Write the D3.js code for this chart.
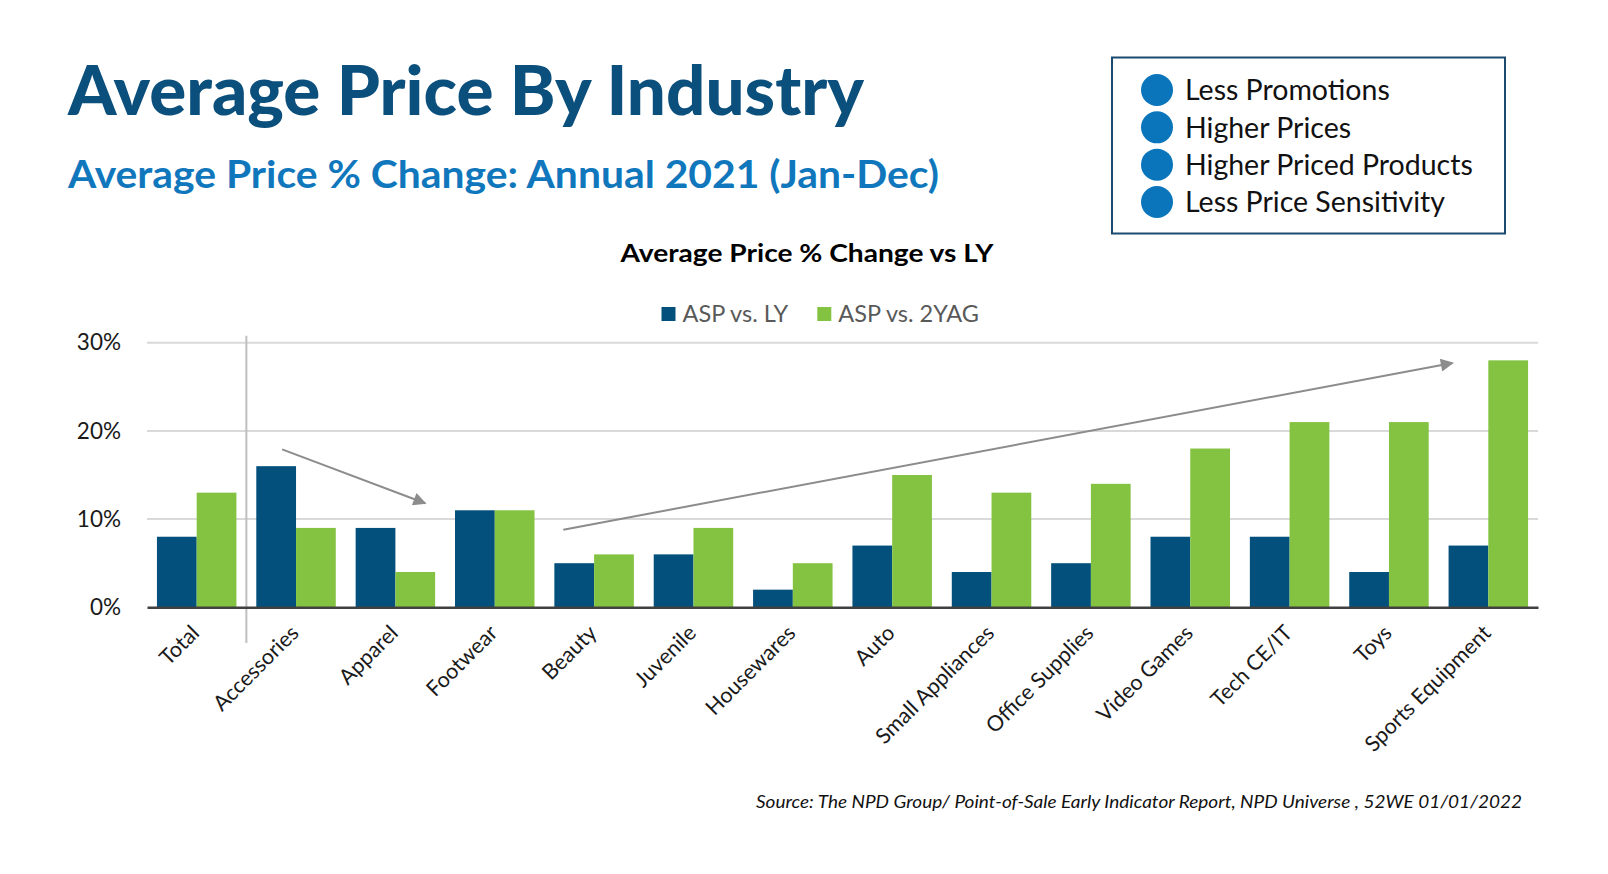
<!DOCTYPE html>
<html>
<head>
<meta charset="utf-8">
<script src="https://cdn.jsdelivr.net/npm/d3@7"></script>
<style>
  html, body { margin: 0; padding: 0; background: #ffffff; }
  svg { display: block; }
  text { font-family: Lato, "Open Sans", sans-serif; }
</style>
</head>
<body>
<svg id="chart" width="1608" height="874"></svg>
<script>
// ---------- data ----------
const categories = ["Total", "Accessories", "Apparel", "Footwear", "Beauty", "Juvenile", "Housewares",
  "Auto", "Small Appliances", "Office Supplies", "Video Games", "Tech CE/IT", "Toys", "Sports Equipment"];
const aspVsLY   = [8, 16, 9, 11, 5, 6, 2, 7, 4, 5, 8, 8, 4, 7];
const aspVs2YAG = [13, 9, 4, 11, 6, 9, 5, 15, 13, 14, 18, 21, 21, 28];
const seriesNames = ["ASP vs. LY", "ASP vs. 2YAG"];
const yTicks = [0, 10, 20, 30];
const bulletItems = ["Less Promotions", "Higher Prices", "Higher Priced Products", "Less Price Sensitivity"];
// trend arrows in data space: [category index position, percent]
const arrowStart = [[1.36, 17.9], [4.19, 8.8]];
const arrowEnd   = [[2.80, 11.8], [13.14, 27.7]];

const titleText = "Average Price By Industry";
const subtitleText = "Average Price % Change: Annual 2021 (Jan-Dec)";
const chartTitleText = "Average Price % Change vs LY";
const sourceText = "Source: The NPD Group/ Point-of-Sale Early Indicator Report, NPD Universe , 52WE 01/01/2022";

// ---------- styles ----------
const BLUE = "#03507D", GREEN = "#84C342";
const svg = d3.select("#chart");

// ---------- headings ----------
svg.append("text").attr("x", 68).attr("y", 115)
  .attr("font-size", 68).attr("font-weight", 900).attr("fill", "#0B4F7C")
  .attr("textLength", 796).attr("lengthAdjust", "spacingAndGlyphs")
  .text(titleText);

svg.append("text").attr("x", 68).attr("y", 188)
  .attr("font-size", 38).attr("font-weight", 700).attr("fill", "#1077BD")
  .attr("textLength", 871).attr("lengthAdjust", "spacingAndGlyphs")
  .text(subtitleText);

// ---------- bullet box ----------
const box = svg.append("g");
box.append("rect").attr("x", 1112).attr("y", 57.5).attr("width", 393).attr("height", 176)
  .attr("fill", "#fff").attr("stroke", "#1B4A6E").attr("stroke-width", 2);
const by = d3.scalePoint().domain(bulletItems).range([90, 202]);
const items = box.selectAll("g.item").data(bulletItems).join("g").attr("class", "item")
  .attr("transform", d => `translate(0,${by(d)})`);
items.append("circle").attr("cx", 1157).attr("cy", 0).attr("r", 16).attr("fill", "#0A75BB");
items.append("text").attr("x", 1185).attr("y", 0).attr("dy", "0.36em")
  .attr("font-size", 28.5).attr("fill", "#111").text(d => d);

// ---------- chart title & legend ----------
svg.append("text").attr("x", 807).attr("y", 262).attr("text-anchor", "middle")
  .attr("font-size", 25).attr("font-weight", 700).attr("fill", "#000")
  .attr("textLength", 373).attr("lengthAdjust", "spacingAndGlyphs")
  .text(chartTitleText);

const legendX = [661.5, 817.3];
const legend = svg.append("g").selectAll("g").data(seriesNames).join("g")
  .attr("transform", (d, i) => `translate(${legendX[i]},314)`);
legend.append("rect").attr("x", 0).attr("y", -7).attr("width", 14).attr("height", 14)
  .attr("fill", (d, i) => i === 0 ? BLUE : GREEN);
legend.append("text").attr("x", 21).attr("y", 0).attr("dy", "0.36em")
  .attr("font-size", 23.5).attr("fill", "#595959").text(d => d);

// ---------- scales ----------
const x0 = d3.scaleBand().domain(categories).range([147, 1538]).paddingInner(0.2).paddingOuter(0.1);
const x1 = d3.scaleBand().domain(seriesNames).range([0, x0.bandwidth()]);
const y = d3.scaleLinear().domain([0, 30]).range([607.3, 342.7]);
const xi = d3.scaleLinear().domain([0, categories.length]).range(x0.range());

// gridlines
const yAxis = d3.axisLeft(y).tickValues(yTicks).tickFormat(d => d + "%").tickSize(0).tickPadding(26);
const gy = svg.append("g").attr("transform", "translate(147,0)").call(yAxis);
gy.select(".domain").remove();
gy.selectAll("text").attr("font-size", 22.5).attr("fill", "#1a1a1a").style("font-family", "Lato, sans-serif");
svg.append("g").selectAll("line").data(yTicks.filter(d => d > 0)).join("line")
  .attr("x1", 147).attr("x2", 1538).attr("y1", d => y(d)).attr("y2", d => y(d))
  .attr("stroke", "#D9D9D9").attr("stroke-width", 2);

// separator between Total and rest
const sepX = xi(1);
svg.append("line").attr("x1", sepX).attr("x2", sepX).attr("y1", y(30) - 7).attr("y2", 643)
  .attr("stroke", "#BFBFBF").attr("stroke-width", 2);

// bars
const rows = categories.map((c, i) => ({ cat: c, vals: [aspVsLY[i], aspVs2YAG[i]] }));
const groups = svg.append("g").selectAll("g").data(rows).join("g")
  .attr("transform", d => `translate(${x0(d.cat)},0)`);
groups.selectAll("rect").data(d => d.vals.map((v, i) => ({ s: seriesNames[i], v, i }))).join("rect")
  .attr("x", d => x1(d.s)).attr("width", x1.bandwidth())
  .attr("y", d => y(d.v)).attr("height", d => y(0) - y(d.v))
  .attr("fill", d => d.i === 0 ? BLUE : GREEN);

// x axis
const xAxis = d3.axisBottom(x0).tickSize(0).tickPadding(0);
const gx = svg.append("g").attr("transform", `translate(0,${y(0)})`).call(xAxis);
gx.select(".domain").attr("stroke", "#404040").attr("stroke-width", 2.5);
gx.selectAll(".tick text")
  .attr("font-size", 21.5).attr("fill", "#1a1a1a").style("font-family", "Lato, sans-serif")
  .attr("text-anchor", "end").attr("dy", 0).attr("y", 0)
  .attr("transform", "translate(4,27) rotate(-45)");

// arrows
const defs = svg.append("defs");
defs.append("marker").attr("id", "ah").attr("viewBox", "0 0 10 10")
  .attr("refX", 9).attr("refY", 5).attr("markerWidth", 7).attr("markerHeight", 6.5)
  .attr("markerUnits", "strokeWidth").attr("orient", "auto")
  .append("path").attr("d", "M0,0 L10,5 L0,10 Z").attr("fill", "#8C8C8C");
svg.append("g").selectAll("line").data(arrowStart.map((s, i) => [s, arrowEnd[i]])).join("line")
  .attr("x1", d => xi(d[0][0])).attr("y1", d => y(d[0][1]))
  .attr("x2", d => xi(d[1][0])).attr("y2", d => y(d[1][1]))
  .attr("stroke", "#8C8C8C").attr("stroke-width", 2).attr("marker-end", "url(#ah)");

// source
svg.append("text").attr("x", 1522).attr("y", 808).attr("text-anchor", "end")
  .attr("font-size", 17.5).attr("font-style", "italic").attr("fill", "#111")
  .attr("textLength", 766).attr("lengthAdjust", "spacingAndGlyphs")
  .text(sourceText);
</script>
</body>
</html>
